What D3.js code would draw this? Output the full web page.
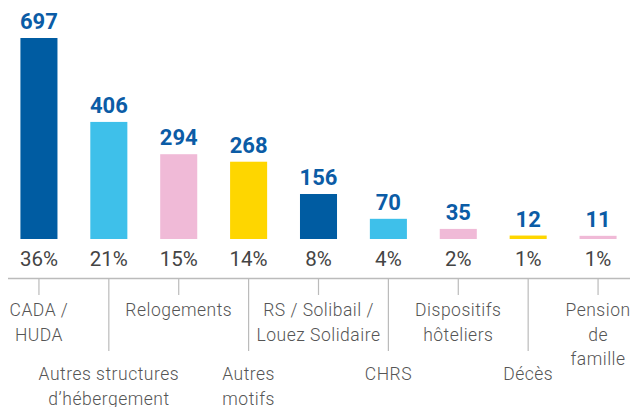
<!DOCTYPE html>
<html>
<head>
<meta charset="utf-8">
<script src="https://cdn.jsdelivr.net/npm/d3@7"></script>
<style>
  body { margin: 0; background: #fff; }
  .val { font-family: Roboto, sans-serif; font-weight: 700; font-size: 22px; fill: #0b5ca6; }
  .pct { font-family: Roboto, sans-serif; font-weight: 400; font-size: 20.5px; fill: #444; }
  .cat { font-family: Roboto, sans-serif; font-weight: 300; font-size: 17.5px; fill: #555; letter-spacing: 0.5px; }
</style>
</head>
<body>
<svg id="chart" width="630" height="407"></svg>
<script>
var categories = [
  ['CADA /', 'HUDA'],
  ['Autres structures', 'd\u2019hébergement'],
  ['Relogements'],
  ['Autres', 'motifs'],
  ['RS / Solibail /', 'Louez Solidaire'],
  ['CHRS'],
  ['Dispositifs', 'hôteliers'],
  ['Décès'],
  ['Pension', 'de', 'famille']
];
var values = [697, 406, 294, 268, 156, 70, 35, 12, 11];
var percents = ['36%', '21%', '15%', '14%', '8%', '4%', '2%', '1%', '1%'];
var colors = ['#005ca2', '#3ec0ea', '#f0bad7', '#fed600', '#005ca2', '#3ec0ea', '#f0bad7', '#fed600', '#f0bad7'];

var svg = d3.select('#chart');
var idx = d3.range(values.length);

var baseY = 239, axisY = 278;

var x = d3.scaleBand()
  .domain(idx)
  .range([4, 633])
  .paddingInner(0.47)
  .paddingOuter(0.235);

var y = d3.scaleLinear()
  .domain([0, 697])
  .range([baseY, 38]);

// bars
svg.selectAll('.bar')
  .data(idx)
  .enter().append('rect')
  .attr('class', 'bar')
  .attr('x', i => x(i))
  .attr('width', x.bandwidth())
  .attr('y', i => y(values[i]))
  .attr('height', i => baseY - y(values[i]))
  .style('fill', i => colors[i]);

// value labels
svg.selectAll('.val')
  .data(idx)
  .enter().append('text')
  .attr('class', 'val')
  .attr('x', i => x(i) + x.bandwidth() / 2)
  .attr('y', i => y(values[i]) - 9)
  .attr('text-anchor', 'middle')
  .text(i => values[i]);

// percentages
svg.selectAll('.pct')
  .data(idx)
  .enter().append('text')
  .attr('class', 'pct')
  .attr('x', i => x(i) + x.bandwidth() / 2)
  .attr('y', 266)
  .attr('text-anchor', 'middle')
  .text(i => percents[i]);

// axis with alternating tick lengths
var axis = svg.append('g')
  .attr('transform', 'translate(0,' + axisY + ')')
  .call(d3.axisBottom(x).tickSize(0).tickFormat(''));

axis.select('.domain')
  .attr('d', 'M8,0.5H630')
  .attr('stroke', '#bbb')
  .attr('stroke-width', 1.5);

axis.selectAll('.tick line')
  .attr('y2', (d, k) => k % 2 === 0 ? 17 : 73)
  .attr('stroke', '#bbb')
  .attr('stroke-width', 1.2);

// category labels
var cat = svg.selectAll('.cat')
  .data(idx)
  .enter().append('text')
  .attr('class', 'cat')
  .attr('text-anchor', 'middle')
  .attr('transform', i => 'translate(' + (x(i) + x.bandwidth() / 2) + ',' + (i % 2 === 0 ? 316 : 380) + ')');

cat.selectAll('tspan')
  .data(i => categories[i])
  .enter().append('tspan')
  .attr('x', 0)
  .attr('y', (d, k) => k * 24.5)
  .text(d => d);
</script>
</body>
</html>
